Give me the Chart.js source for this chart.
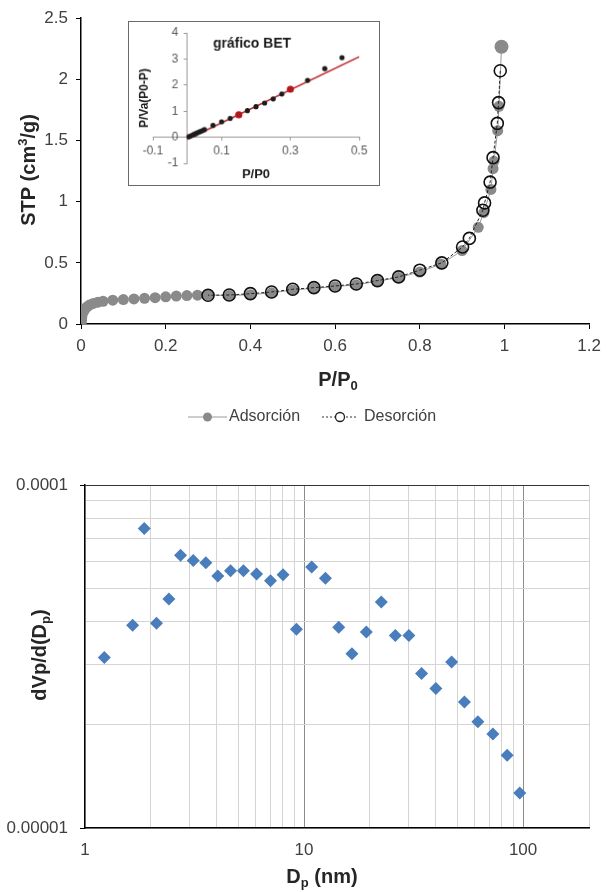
<!DOCTYPE html>
<html>
<head>
<meta charset="utf-8">
<script src="https://cdn.jsdelivr.net/npm/chart.js@4.4.1/dist/chart.umd.min.js"></script>
<style>
  body { margin: 0; background: #fff; }
  #wrap { position: relative; width: 608px; height: 892px; }
  canvas { position: absolute; }
  #bet { left: 128px; top: 21px; border: 1px solid #6a6a6a; background: #fff; }
</style>
</head>
<body>
<div id="wrap">
  <canvas id="iso" width="608" height="445" style="left:0;top:0"></canvas>
  <canvas id="bet" width="252" height="165"></canvas>
  <canvas id="psd" width="608" height="447" style="left:0;top:445px"></canvas>
</div>
<script>
// isotherm, adsorption branch
const isoAdsX = [0.0005, 0.001, 0.002, 0.004, 0.007, 0.01, 0.014, 0.02, 0.029, 0.04, 0.052,
  0.075, 0.1, 0.125, 0.15, 0.175, 0.2, 0.225, 0.25, 0.275, 0.3, 0.35, 0.4, 0.45, 0.5, 0.55,
  0.6, 0.65, 0.7, 0.75, 0.8, 0.85, 0.9, 0.938, 0.951, 0.968, 0.973, 0.975, 0.984, 0.987, 0.993];
const isoAdsY = [0.01, 0.03, 0.06, 0.09, 0.11, 0.125, 0.14, 0.155, 0.168, 0.178, 0.186,
  0.195, 0.2, 0.205, 0.21, 0.215, 0.222, 0.228, 0.232, 0.236, 0.238, 0.232, 0.24, 0.255, 0.278, 0.292,
  0.305, 0.32, 0.35, 0.38, 0.425, 0.49, 0.6, 0.79, 0.91, 1.10, 1.27, 1.33, 1.58, 1.78, 2.266];
// desorption branch
const isoDesX = [0.99, 0.986, 0.983, 0.973, 0.966, 0.953, 0.949, 0.917, 0.901, 0.852, 0.8,
  0.75, 0.7, 0.65, 0.6, 0.55, 0.5, 0.45, 0.4, 0.35, 0.3];
const isoDesY = [2.07, 1.81, 1.64, 1.36, 1.16, 0.99, 0.93, 0.70, 0.63, 0.50, 0.44,
  0.385, 0.355, 0.327, 0.311, 0.297, 0.284, 0.262, 0.248, 0.237, 0.235];

// BET inset
const betX = [0.005, 0.01, 0.015, 0.02, 0.025, 0.03, 0.035, 0.04, 0.045, 0.05,
  0.075, 0.1, 0.125, 0.175, 0.2, 0.225, 0.25, 0.275, 0.35, 0.4, 0.45];
const betY = [0.02, 0.05, 0.08, 0.11, 0.14, 0.17, 0.2, 0.23, 0.26, 0.29,
  0.45, 0.59, 0.72, 1.02, 1.17, 1.31, 1.47, 1.66, 2.18, 2.63, 3.05];
const betRedX = [0.15, 0.3];
const betRedY = [0.86, 1.84];
const betFitX = [0, 0.5];
const betFitY = [-0.08, 3.08];
const betXTicks = [-0.1, 0.1, 0.3, 0.5];

// pore size distribution
const psdX = [1.225, 1.65, 1.864, 2.12, 2.415, 2.73, 3.12, 3.56, 4.04, 4.62, 5.29, 6.07, 7.03,
  8.02, 9.23, 10.84, 12.52, 14.4, 16.55, 19.25, 22.54, 26.1, 30.1, 34.4, 40.0, 47.2, 54.0,
  62.2, 72.8, 84.6, 96.6];
const psdY = [3.14e-5, 3.90e-5, 7.47e-5, 3.95e-5, 4.65e-5, 6.24e-5, 6.02e-5, 5.93e-5, 5.43e-5,
  5.62e-5, 5.62e-5, 5.50e-5, 5.26e-5, 5.47e-5, 3.80e-5, 5.77e-5, 5.35e-5, 3.85e-5, 3.22e-5,
  3.73e-5, 4.56e-5, 3.64e-5, 3.64e-5, 2.82e-5, 2.55e-5, 3.05e-5, 2.33e-5, 2.04e-5, 1.88e-5,
  1.63e-5, 1.265e-5];
const psdXTicks = [1, 2, 3, 4, 5, 6, 7, 8, 9, 10, 20, 30, 40, 50, 60, 70, 80, 90, 100, 200];
const psdXLabels = [1, 10, 100];
const psdYTicks = [1e-5, 2e-5, 3e-5, 4e-5, 5e-5, 6e-5, 7e-5, 8e-5, 9e-5, 1e-4];
const psdYLabels = { '0.00001': 1e-5, '0.0001': 1e-4 };

Chart.defaults.font.family = "'Liberation Sans', Arial, sans-serif";
Chart.defaults.color = '#404040';

const pts = (xs, ys) => xs.map((x, i) => ({ x: x, y: ys[i] }));
const plain = v => String(+Number(v).toFixed(3));

// draws a run of text pieces (for sub/superscripts)
function richText(ctx, parts, x, y) {
  let w = 0;
  parts.forEach(p => { ctx.font = p.f; p.w = ctx.measureText(p.t).width; w += p.w; });
  let cx = x - w / 2;
  ctx.textAlign = 'left';
  ctx.textBaseline = 'alphabetic';
  parts.forEach(p => { ctx.font = p.f; ctx.fillText(p.t, cx, y + (p.dy || 0)); cx += p.w; });
}
const B20 = "bold 20px 'Liberation Sans', Arial, sans-serif";
const B13 = "bold 13px 'Liberation Sans', Arial, sans-serif";

const isoText = {
  id: 'isoText',
  afterDraw(chart) {
    const c = chart.ctx;
    c.save();
    c.fillStyle = '#262626';
    richText(c, [{ t: 'P/P', f: B20 }, { t: '0', f: B13, dy: 4 }], 338, 386);
    c.save();
    c.translate(35, 170);
    c.rotate(-Math.PI / 2);
    richText(c, [{ t: 'STP (cm', f: B20 }, { t: '3', f: B13, dy: -8 }, { t: '/g)', f: B20 }], 0, 0);
    c.restore();

    // legend
    const ly = 417;
    c.strokeStyle = '#9a9a9a'; c.lineWidth = 1;
    c.beginPath(); c.moveTo(188, ly); c.lineTo(227, ly); c.stroke();
    c.fillStyle = '#8a8a8a';
    c.beginPath(); c.arc(207.5, ly, 4.5, 0, Math.PI * 2); c.fill();
    c.strokeStyle = '#333'; c.setLineDash([2, 2]);
    c.beginPath(); c.moveTo(322, ly); c.lineTo(357, ly); c.stroke();
    c.setLineDash([]);
    c.fillStyle = '#fff'; c.lineWidth = 1.3; c.strokeStyle = '#222';
    c.beginPath(); c.arc(340, ly, 4.5, 0, Math.PI * 2); c.fill(); c.stroke();
    c.fillStyle = '#404040';
    c.font = "16px 'Liberation Sans', Arial, sans-serif";
    c.textAlign = 'left'; c.textBaseline = 'middle';
    c.fillText('Adsorción', 229, ly);
    c.fillText('Desorción', 364, ly);
    c.restore();
  }
};

new Chart(document.getElementById('iso'), {
  type: 'scatter',
  data: {
    datasets: [
      {
        label: 'Desorción',
        data: pts(isoDesX, isoDesY),
        showLine: true,
        borderColor: '#222',
        borderWidth: 1,
        borderDash: [3, 2],
        pointRadius: 6,
        pointBorderWidth: 1.6,
        pointBorderColor: '#111',
        pointBackgroundColor: 'rgba(0,0,0,0)',
        order: 0
      },
      {
        label: 'Adsorción',
        data: pts(isoAdsX, isoAdsY),
        showLine: true,
        borderColor: '#9a9a9a',
        borderWidth: 1,
        pointRadius: ctx => ctx.dataIndex === isoAdsX.length - 1 ? 7 : 5.5,
        pointBorderWidth: 0,
        pointBackgroundColor: '#8a8a8a',
        order: 1
      }
    ]
  },
  options: {
    responsive: false,
    animation: false,
    layout: { padding: { left: 0, right: 13, top: 18, bottom: 91 } },
    plugins: { legend: { display: false }, tooltip: { enabled: false } },
    scales: {
      x: {
        type: 'linear', min: 0, max: 1.2,
        afterFit: s => { s.height = 30; },
        ticks: { stepSize: 0.2, padding: 7, font: { size: 17 }, maxRotation: 0, callback: plain },
        grid: { drawOnChartArea: false, tickLength: 5, color: '#000' },
        border: { color: '#000', width: 1.5 }
      },
      y: {
        type: 'linear', min: 0, max: 2.5,
        afterFit: s => { s.width = 81; },
        ticks: { stepSize: 0.5, padding: 8, font: { size: 17 }, callback: plain },
        grid: { drawOnChartArea: false, tickLength: 5, color: '#000' },
        border: { color: '#000', width: 1.5 }
      }
    }
  },
  plugins: [isoText]
});

const betText = {
  id: 'betText',
  afterDraw(chart) {
    const c = chart.ctx;
    const xs = chart.scales.x, ys = chart.scales.y;
    c.save();
    // y tick labels sit left of the axis crossing at x = 0
    c.fillStyle = '#555';
    c.font = "12px 'Liberation Sans', Arial, sans-serif";
    c.textAlign = 'right'; c.textBaseline = 'middle';
    const ax = xs.getPixelForValue(0);
    ys.ticks.forEach(t => c.fillText(String(t.value), ax - 9, ys.getPixelForValue(t.value)));

    c.fillStyle = '#1a1a1a';
    c.textAlign = 'center';
    c.font = "bold 14px 'Liberation Sans', Arial, sans-serif";
    c.fillText('gráfico BET', 124, 22);
    c.font = "bold 13px 'Liberation Sans', Arial, sans-serif";
    c.fillText('P/P0', 128, 154);
    c.translate(16, 77);
    c.rotate(-Math.PI / 2);
    c.font = "bold 12px 'Liberation Sans', Arial, sans-serif";
    c.fillText('P/Va(P0-P)', 0, 0);
    c.restore();
  }
};

new Chart(document.getElementById('bet'), {
  type: 'scatter',
  data: {
    datasets: [
      { data: pts(betRedX, betRedY), pointRadius: 3.6, pointBorderWidth: 0, pointBackgroundColor: '#b3171d', order: 0 },
      { data: pts(betX, betY), pointRadius: 2.6, pointBorderWidth: 0, pointBackgroundColor: '#1c1c1c', order: 1 },
      { data: pts(betFitX, betFitY), showLine: true, pointRadius: 0, borderColor: '#c0282d', borderWidth: 1.5, order: 2 }
    ]
  },
  options: {
    responsive: false,
    animation: false,
    layout: { padding: { left: 24, right: 20, top: 11, bottom: 22 } },
    plugins: { legend: { display: false }, tooltip: { enabled: false } },
    scales: {
      x: {
        type: 'linear', min: -0.1, max: 0.5, position: { y: 0 },
        afterBuildTicks: s => { s.ticks = betXTicks.map(v => ({ value: v })); },
        ticks: { padding: 4, font: { size: 12 }, color: '#555', maxRotation: 0, autoSkip: false },
        grid: { drawOnChartArea: false, tickLength: 3, color: '#999' },
        border: { color: '#999', width: 1 }
      },
      y: {
        type: 'linear', min: -1, max: 4, position: { x: 0 },
        ticks: { stepSize: 1, display: false },
        grid: { drawOnChartArea: false, tickLength: 3, color: '#999' },
        border: { color: '#999', width: 1 }
      }
    }
  },
  plugins: [betText]
});

const psdText = {
  id: 'psdText',
  afterDraw(chart) {
    const c = chart.ctx;
    c.save();
    c.fillStyle = '#262626';
    richText(c, [{ t: 'D', f: B20 }, { t: 'p', f: B13, dy: 4 }, { t: ' (nm)', f: B20 }], 322, 438);
    c.translate(46, 210);
    c.rotate(-Math.PI / 2);
    richText(c, [{ t: 'dVp/d(D', f: B20 }, { t: 'p', f: B13, dy: 4 }, { t: ')', f: B20 }], 0, 0);
    c.restore();
  }
};

new Chart(document.getElementById('psd'), {
  type: 'scatter',
  data: {
    datasets: [{
      data: pts(psdX, psdY),
      pointStyle: 'rectRot',
      pointRadius: 6.5,
      pointBorderWidth: 0,
      pointBackgroundColor: '#4a7dbb'
    }]
  },
  options: {
    responsive: false,
    animation: false,
    layout: { padding: { left: 0, right: 19, top: 40, bottom: 34 } },
    plugins: { legend: { display: false }, tooltip: { enabled: false } },
    scales: {
      x: {
        type: 'logarithmic', min: 1, max: 200,
        afterFit: s => { s.height = 30; },
        afterBuildTicks: s => { s.ticks = psdXTicks.map(v => ({ value: v })); },
        ticks: {
          autoSkip: false, maxRotation: 0, padding: 12, font: { size: 17 },
          callback: v => psdXLabels.includes(v) ? String(v) : ''
        },
        grid: {
          drawTicks: false,
          color: c => (c.tick && (c.tick.value === 10 || c.tick.value === 100)) ? '#8c8c8c' : '#d4d4d4'
        },
        border: { color: '#000', width: 1.5 }
      },
      y: {
        type: 'logarithmic', min: 1e-5, max: 1e-4,
        afterFit: s => { s.width = 85; },
        afterBuildTicks: s => { s.ticks = psdYTicks.map(v => ({ value: v })); },
        ticks: {
          autoSkip: false, padding: 12, font: { size: 17 },
          callback: v => Object.keys(psdYLabels).find(k => psdYLabels[k] === v) || ''
        },
        grid: {
          tickLength: 5,
          color: c => (c.tick && c.tick.value === 1e-4) ? '#333' : '#d4d4d4',
          tickColor: c => (c.tick && (c.tick.value === 1e-4 || c.tick.value === 1e-5)) ? '#000' : 'rgba(0,0,0,0)'
        },
        border: { color: '#000', width: 1.5 }
      }
    }
  },
  plugins: [psdText]
});
</script>
</body>
</html>
